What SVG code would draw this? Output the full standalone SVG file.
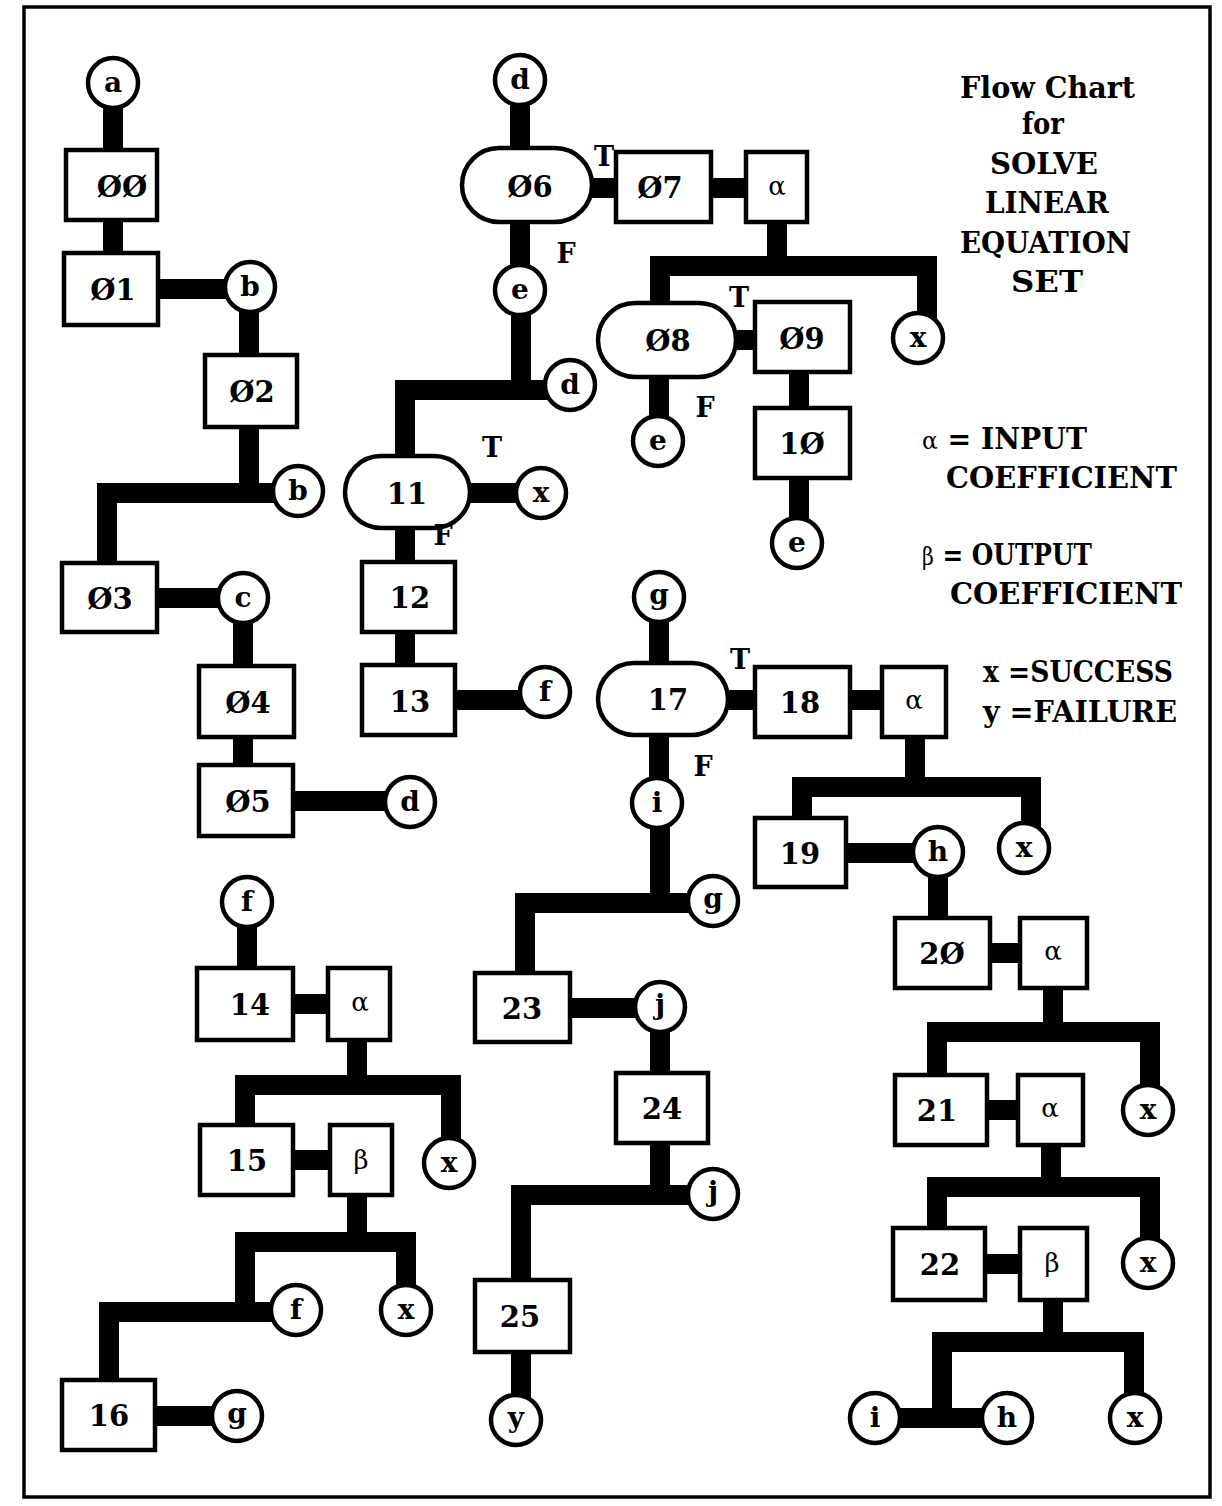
<svg xmlns="http://www.w3.org/2000/svg" width="1222" height="1506" viewBox="0 0 1222 1506">
<style>
.frame{fill:none;stroke:#000;stroke-width:3.5}
.bar{fill:none;stroke:#000;stroke-width:20;stroke-linejoin:miter;stroke-linecap:butt}
.box,.term,.circ{fill:#fff;stroke:#000;stroke-width:4.5}
.t{font-family:"DejaVu Serif","Liberation Serif",serif;font-weight:bold;font-size:29px;text-anchor:middle;fill:#000}
.c{font-family:"DejaVu Serif","Liberation Serif",serif;font-weight:bold;font-size:28px;text-anchor:middle;fill:#000}
.g{font-family:"DejaVu Serif","Liberation Serif",serif;font-size:26px;text-anchor:middle;fill:#000}
.lbl{font-family:"DejaVu Serif","Liberation Serif",serif;font-weight:bold;font-size:27px;text-anchor:middle;fill:#000}
.leg{font-family:"DejaVu Serif","Liberation Serif",serif;font-weight:bold;font-size:29px;fill:#000}
.sym{font-weight:normal;font-size:24px}
</style>
<rect width="1222" height="1506" fill="#fff"/>
<rect class="frame" x="24" y="7" width="1186" height="1490"/>

<g id="connectors">
<path class="bar" d="M113,83 V289"/>
<path class="bar" d="M111,289 H250"/>
<path class="bar" d="M249,287 V493"/>
<path class="bar" d="M298,493 H107 V598"/>
<path class="bar" d="M110,598 H243"/>
<path class="bar" d="M243,598 V802"/>
<path class="bar" d="M246,801 H410"/>
<path class="bar" d="M520,80 V290"/>
<path class="bar" d="M521,290 V391"/>
<path class="bar" d="M570,390 H405 V700"/>
<path class="bar" d="M407,493 H541"/>
<path class="bar" d="M407,700 H545"/>
<path class="bar" d="M530,188 H777"/>
<path class="bar" d="M777,188 V266"/>
<path class="bar" d="M660,340 V266 H927 V338"/>
<path class="bar" d="M668,340 H800"/>
<path class="bar" d="M659,340 V441"/>
<path class="bar" d="M799,340 V543"/>
<path class="bar" d="M659,597 V803"/>
<path class="bar" d="M668,700 H914"/>
<path class="bar" d="M915,700 V787"/>
<path class="bar" d="M802,853 V787 H1031 V848"/>
<path class="bar" d="M800,853 H938"/>
<path class="bar" d="M938,852 V953"/>
<path class="bar" d="M942,953 H1053"/>
<path class="bar" d="M1053,953 V1032"/>
<path class="bar" d="M937,1110 V1032 H1150 V1110"/>
<path class="bar" d="M936,1110 H1050"/>
<path class="bar" d="M1051,1110 V1187"/>
<path class="bar" d="M937,1264 V1187 H1150 V1263"/>
<path class="bar" d="M940,1264 H1053"/>
<path class="bar" d="M1053,1264 V1342"/>
<path class="bar" d="M942,1418 V1342 H1134 V1418"/>
<path class="bar" d="M875,1418 H1007"/>
<path class="bar" d="M660,803 V903"/>
<path class="bar" d="M713,903 H525 V1008"/>
<path class="bar" d="M522,1008 H660"/>
<path class="bar" d="M660,1007 V1195"/>
<path class="bar" d="M713,1195 H521 V1420"/>
<path class="bar" d="M247,902 V1005"/>
<path class="bar" d="M245,1004 H360"/>
<path class="bar" d="M357,1004 V1085"/>
<path class="bar" d="M245,1160 V1085 H451 V1163"/>
<path class="bar" d="M247,1160 H360"/>
<path class="bar" d="M357,1160 V1242"/>
<path class="bar" d="M245,1310 V1242 H406 V1310"/>
<path class="bar" d="M296,1312 H109 V1415"/>
<path class="bar" d="M109,1416 H237"/>
</g>

<!-- left column -->
<g id="n-a"><circle class="circ" cx="113" cy="83" r="25"/><text class="c" x="113" y="92">a</text></g>
<g id="n-00"><rect class="box" x="66" y="150" width="91" height="70"/><text class="t" x="122" y="197">ØØ</text></g>
<g id="n-01"><rect class="box" x="64" y="253" width="94" height="72"/><text class="t" x="113" y="300">Ø1</text></g>
<g id="n-b1"><circle class="circ" cx="250" cy="287" r="25"/><text class="c" x="250" y="296">b</text></g>
<g id="n-02"><rect class="box" x="205" y="355" width="92" height="72"/><text class="t" x="252" y="402">Ø2</text></g>
<g id="n-b2"><circle class="circ" cx="298" cy="491" r="25"/><text class="c" x="298" y="500">b</text></g>
<g id="n-03"><rect class="box" x="62" y="563" width="95" height="69"/><text class="t" x="110" y="609">Ø3</text></g>
<g id="n-c"><circle class="circ" cx="243" cy="598" r="25"/><text class="c" x="243" y="607">c</text></g>
<g id="n-04"><rect class="box" x="199" y="666" width="95" height="71"/><text class="t" x="248" y="713">Ø4</text></g>
<g id="n-05"><rect class="box" x="199" y="765" width="94" height="71"/><text class="t" x="248" y="812">Ø5</text></g>
<g id="n-d1"><circle class="circ" cx="410" cy="802" r="25"/><text class="c" x="410" y="811">d</text></g>

<!-- middle top -->
<g id="n-d2"><circle class="circ" cx="520" cy="80" r="25"/><text class="c" x="520" y="89">d</text></g>
<g id="n-06"><rect class="term" x="462" y="148" width="130" height="74" rx="37"/><text class="t" x="530" y="197">Ø6</text></g>
<g id="n-07"><rect class="box" x="616" y="152" width="95" height="70"/><text class="t" x="660" y="198">Ø7</text></g>
<g id="n-alpha1"><rect class="box" x="746" y="152" width="61" height="70"/><text class="g" x="777" y="195">α</text></g>
<g id="n-e1"><circle class="circ" cx="520" cy="290" r="25"/><text class="c" x="520" y="299">e</text></g>
<g id="n-d3"><circle class="circ" cx="570" cy="385" r="25"/><text class="c" x="570" y="394">d</text></g>
<g id="n-08"><rect class="term" x="598" y="303" width="138" height="74" rx="37"/><text class="t" x="668" y="351">Ø8</text></g>
<g id="n-09"><rect class="box" x="755" y="302" width="95" height="70"/><text class="t" x="802" y="349">Ø9</text></g>
<g id="n-x1"><circle class="circ" cx="918" cy="338" r="25"/><text class="c" x="918" y="347">x</text></g>
<g id="n-e2"><circle class="circ" cx="658" cy="441" r="25"/><text class="c" x="658" y="450">e</text></g>
<g id="n-10"><rect class="box" x="755" y="408" width="95" height="70"/><text class="t" x="802" y="454">1Ø</text></g>
<g id="n-e3"><circle class="circ" cx="797" cy="543" r="25"/><text class="c" x="797" y="552">e</text></g>
<g id="n-11"><rect class="term" x="345" y="456" width="125" height="72" rx="36"/><text class="t" x="407" y="504">11</text></g>
<g id="n-x2"><circle class="circ" cx="541" cy="493" r="25"/><text class="c" x="541" y="502">x</text></g>
<g id="n-12"><rect class="box" x="362" y="562" width="93" height="70"/><text class="t" x="410" y="608">12</text></g>
<g id="n-13"><rect class="box" x="362" y="665" width="93" height="70"/><text class="t" x="410" y="712">13</text></g>
<g id="n-f1"><circle class="circ" cx="545" cy="692" r="25"/><text class="c" x="545" y="701">f</text></g>

<!-- right middle -->
<g id="n-g1"><circle class="circ" cx="659" cy="597" r="25"/><text class="c" x="659" y="604">g</text></g>
<g id="n-17"><rect class="term" x="598" y="663" width="130" height="72" rx="36"/><text class="t" x="668" y="710">17</text></g>
<g id="n-18"><rect class="box" x="755" y="667" width="95" height="70"/><text class="t" x="800" y="713">18</text></g>
<g id="n-alpha2"><rect class="box" x="882" y="667" width="64" height="70"/><text class="g" x="914" y="709">α</text></g>
<g id="n-i1"><circle class="circ" cx="657" cy="803" r="25"/><text class="c" x="657" y="812">i</text></g>
<g id="n-19"><rect class="box" x="755" y="818" width="91" height="69"/><text class="t" x="800" y="864">19</text></g>
<g id="n-h1"><circle class="circ" cx="938" cy="852" r="25"/><text class="c" x="938" y="861">h</text></g>
<g id="n-x3"><circle class="circ" cx="1024" cy="848" r="25"/><text class="c" x="1024" y="857">x</text></g>
<g id="n-g2"><circle class="circ" cx="713" cy="901" r="25"/><text class="c" x="713" y="908">g</text></g>
<g id="n-20"><rect class="box" x="895" y="918" width="95" height="70"/><text class="t" x="942" y="964">2Ø</text></g>
<g id="n-alpha3"><rect class="box" x="1020" y="918" width="67" height="70"/><text class="g" x="1053" y="960">α</text></g>
<g id="n-21"><rect class="box" x="895" y="1075" width="92" height="70"/><text class="t" x="937" y="1121">21</text></g>
<g id="n-alpha4"><rect class="box" x="1018" y="1075" width="65" height="70"/><text class="g" x="1050" y="1117">α</text></g>
<g id="n-x4"><circle class="circ" cx="1148" cy="1110" r="25"/><text class="c" x="1148" y="1119">x</text></g>
<g id="n-22"><rect class="box" x="893" y="1228" width="92" height="72"/><text class="t" x="940" y="1275">22</text></g>
<g id="n-beta1"><rect class="box" x="1020" y="1228" width="67" height="72"/><text class="g" x="1052" y="1272">β</text></g>
<g id="n-x5"><circle class="circ" cx="1148" cy="1263" r="25"/><text class="c" x="1148" y="1272">x</text></g>
<g id="n-i2"><circle class="circ" cx="875" cy="1418" r="25"/><text class="c" x="875" y="1427">i</text></g>
<g id="n-h2"><circle class="circ" cx="1007" cy="1418" r="25"/><text class="c" x="1007" y="1427">h</text></g>
<g id="n-x6"><circle class="circ" cx="1135" cy="1418" r="25"/><text class="c" x="1135" y="1427">x</text></g>

<!-- middle lower -->
<g id="n-23"><rect class="box" x="475" y="973" width="95" height="69"/><text class="t" x="522" y="1019">23</text></g>
<g id="n-j1"><circle class="circ" cx="660" cy="1007" r="25"/><text class="c" x="660" y="1014">j</text></g>
<g id="n-24"><rect class="box" x="616" y="1073" width="92" height="70"/><text class="t" x="662" y="1119">24</text></g>
<g id="n-j2"><circle class="circ" cx="713" cy="1194" r="25"/><text class="c" x="713" y="1201">j</text></g>
<g id="n-25"><rect class="box" x="475" y="1280" width="95" height="72"/><text class="t" x="520" y="1327">25</text></g>
<g id="n-y"><circle class="circ" cx="516" cy="1420" r="25"/><text class="c" x="516" y="1427">y</text></g>

<!-- lower left -->
<g id="n-f2"><circle class="circ" cx="247" cy="902" r="25"/><text class="c" x="247" y="911">f</text></g>
<g id="n-14"><rect class="box" x="197" y="968" width="96" height="72"/><text class="t" x="250" y="1015">14</text></g>
<g id="n-alpha5"><rect class="box" x="328" y="968" width="62" height="72"/><text class="g" x="360" y="1011">α</text></g>
<g id="n-15"><rect class="box" x="200" y="1125" width="93" height="70"/><text class="t" x="247" y="1171">15</text></g>
<g id="n-beta2"><rect class="box" x="330" y="1125" width="62" height="70"/><text class="g" x="361" y="1169">β</text></g>
<g id="n-x7"><circle class="circ" cx="449" cy="1163" r="25"/><text class="c" x="449" y="1172">x</text></g>
<g id="n-f3"><circle class="circ" cx="296" cy="1310" r="25"/><text class="c" x="296" y="1319">f</text></g>
<g id="n-x8"><circle class="circ" cx="406" cy="1310" r="25"/><text class="c" x="406" y="1319">x</text></g>
<g id="n-16"><rect class="box" x="62" y="1380" width="93" height="70"/><text class="t" x="109" y="1426">16</text></g>
<g id="n-g3"><circle class="circ" cx="237" cy="1416" r="25"/><text class="c" x="237" y="1423">g</text></g>

<g id="branch-labels">
<text class="lbl" x="604" y="166">T</text>
<text class="lbl" x="566" y="263">F</text>
<text class="lbl" x="739" y="307">T</text>
<text class="lbl" x="705" y="417">F</text>
<text class="lbl" x="492" y="457">T</text>
<text class="lbl" x="443" y="545">F</text>
<text class="lbl" x="740" y="669">T</text>
<text class="lbl" x="703" y="776">F</text>
</g>

<g id="legend">
<text class="leg" x="960" y="98" textLength="175" lengthAdjust="spacingAndGlyphs">Flow Chart</text>
<text class="leg" x="1022" y="134" textLength="42" lengthAdjust="spacingAndGlyphs">for</text>
<text class="leg" x="990" y="174" textLength="108" lengthAdjust="spacingAndGlyphs">SOLVE</text>
<text class="leg" x="985" y="213" textLength="124" lengthAdjust="spacingAndGlyphs">LINEAR</text>
<text class="leg" x="960" y="253" textLength="171" lengthAdjust="spacingAndGlyphs">EQUATION</text>
<text class="leg" x="1011" y="292" textLength="72" lengthAdjust="spacingAndGlyphs">SET</text>
<text class="leg" x="922" y="449" textLength="165" lengthAdjust="spacingAndGlyphs"><tspan class="sym">α</tspan> = INPUT</text>
<text class="leg" x="946" y="488" textLength="231" lengthAdjust="spacingAndGlyphs">COEFFICIENT</text>
<text class="leg" x="922" y="565" textLength="170" lengthAdjust="spacingAndGlyphs"><tspan class="sym">β</tspan> = OUTPUT</text>
<text class="leg" x="950" y="604" textLength="232" lengthAdjust="spacingAndGlyphs">COEFFICIENT</text>
<text class="leg" x="983" y="682" textLength="190" lengthAdjust="spacingAndGlyphs">x =SUCCESS</text>
<text class="leg" x="983" y="722" textLength="194" lengthAdjust="spacingAndGlyphs">y =FAILURE</text>
</g>
</svg>
